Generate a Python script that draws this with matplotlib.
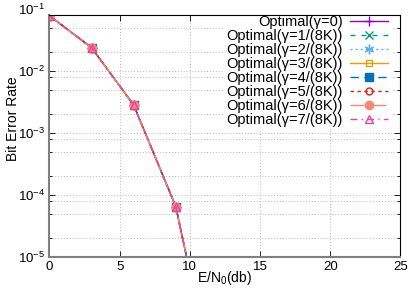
import numpy as np
import matplotlib
matplotlib.use("Agg")
import matplotlib.pyplot as plt
from matplotlib.ticker import LogLocator, NullFormatter, FixedLocator

plt.rcParams['font.family'] = ['Liberation Sans', 'DejaVu Sans']
plt.rcParams['mathtext.default'] = 'regular'
plt.rcParams['axes.unicode_minus'] = False

# data (all curves overlap)
snr_db = [0, 3, 6, 9, 12]
ber = [0.078, 0.0238, 0.00283, 6.5e-5, 4.5e-8]
labels = ['Optimal(γ=0)', 'Optimal(γ=1/(8K))', 'Optimal(γ=2/(8K))', 'Optimal(γ=3/(8K))',
          'Optimal(γ=4/(8K))', 'Optimal(γ=5/(8K))', 'Optimal(γ=6/(8K))', 'Optimal(γ=7/(8K))']
x_ticks = [0, 5, 10, 15, 20, 25]

# gnuplot-ish styles
colors = ['#9400d3', '#009e73', '#56b4e9', '#e69f00', '#0072b2', '#e51e10', '#fa8878', '#f5409a']
markers = ['+', 'x', (6, 2, 0), 's', 's', 'o', 'o', '^']
filled = [True, True, True, False, True, False, True, False]
msizes = [7, 6, 7, 5, 6, 5, 6, 6]
dashes = ['-', (0, (3.6, 4.3)), (0, (1.5, 2.2)), '-', (0, (6, 4)),
          (0, (2.5, 2.5)), (0, (10, 2.5, 1, 2.5)), (0, (5, 3, 1, 3))]

fig = plt.figure(figsize=(4.15, 2.91), dpi=100)
ax = fig.add_axes([0.119, 0.1168, 0.846, 0.8317])

for i in range(len(labels)):
    mfc = colors[i] if filled[i] else 'none'
    ax.plot(snr_db, ber, color=colors[i], linestyle=dashes[i], linewidth=1.0,
            marker=markers[i], markersize=msizes[i], markerfacecolor=mfc,
            markeredgecolor=colors[i], markeredgewidth=1.0, label=labels[i])

ax.set_yscale('log')
ax.set_xlim(0, 25)
ax.set_ylim(1e-5, 0.08)
ax.set_xticks(x_ticks)
ax.yaxis.set_major_locator(FixedLocator([1e-5, 1e-4, 1e-3, 1e-2]))
ax.yaxis.set_minor_locator(LogLocator(base=10, subs=(2, 5, 8)))
ax.yaxis.set_minor_formatter(NullFormatter())
# top tick label sits just above the plotted range
ax.text(-0.012, 0.1, '$10^{-1}$', transform=ax.get_yaxis_transform(), ha='right',
        va='center_baseline', fontsize=9.5, clip_on=False)

ax.grid(True, which='major', color='#b8b8b8', linestyle=(0, (1, 2)), linewidth=0.7)
ax.grid(True, which='minor', axis='y', color='#b8b8b8', linestyle=(0, (1, 2)), linewidth=0.7)
ax.set_axisbelow(True)

ax.tick_params(which='both', direction='in', top=True, right=True, labelsize=9.5)
ax.tick_params(which='major', length=4, width=0.6, pad=3)
ax.tick_params(which='minor', length=2, width=0.6)

for s in ['left', 'bottom']:
    ax.spines[s].set_color('#808080')
    ax.spines[s].set_linewidth(1.5)
for s in ['top', 'right']:
    ax.spines[s].set_color('black')
    ax.spines[s].set_linewidth(0.8)

ax.set_xlabel('E/N$_0$(db)', fontsize=10)
ax.xaxis.set_label_coords(0.5, -0.05)
ax.set_ylabel('Bit Error Rate', fontsize=10)
ax.yaxis.set_label_coords(-0.085, 0.57)

leg = ax.legend(loc='upper right', bbox_to_anchor=(0.975, 1.0134), borderaxespad=0,
                markerfirst=False, fontsize=10.5, frameon=True,
                facecolor='white', edgecolor='none', framealpha=1, fancybox=False,
                handlelength=2.6, handletextpad=0.5, labelspacing=0.0,
                borderpad=0.25)
leg.set_zorder(2.4)

fig.savefig('out.png', dpi=100)
